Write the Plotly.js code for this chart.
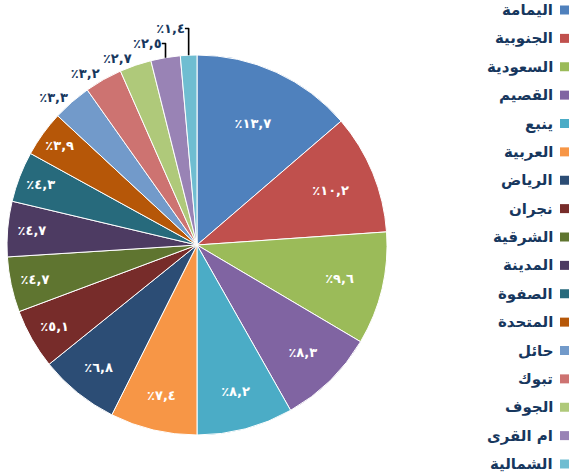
<!DOCTYPE html>
<html>
<head>
<meta charset="utf-8">
<script src="https://cdn.plot.ly/plotly-3.0.1.min.js"></script>
<style>html,body{margin:0;padding:0;background:#fff;}#chart{width:570px;height:475px;}</style>
</head>
<body>
<div id="chart"></div>
<script>
const categories = ['اليمامة','الجنوبية','السعودية','القصيم','ينبع','العربية','الرياض','نجران','الشرقية','المدينة','الصفوة','المتحدة','حائل','تبوك','الجوف','ام القرى','الشمالية'];
const values = [13.7,10.2,9.6,8.3,8.2,7.4,6.8,5.1,4.7,4.7,4.3,3.9,3.3,3.2,2.7,2.5,1.4];
const colors = ['#4F81BD','#C0504D','#9BBB59','#8064A2','#4BACC6','#F79646','#2C4D75','#772C2A','#5F7530','#4D3B62','#276A7C','#B65708','#729ACA','#CD7371','#AFC97A','#9983B5','#6FBDD1'];

const navy = '#17375E';
function arabicDigits(s){ return s.replace(/[0-9]/g, d => '٠١٢٣٤٥٦٧٨٩'[+d]); }
const labels = values.map(v => '٪' + arabicDigits(v.toFixed(1).replace('.', ',')));
const outsideCount = 5;
const positions = values.map((v,i) => i >= values.length - outsideCount ? 'outside' : 'inside');
const textColors = values.map((v,i) => i >= values.length - outsideCount ? navy : '#FFFFFF');

const W = 570, H = 475;
const trace = {
  type: 'pie',
  labels: categories,
  values: values,
  text: labels,
  textinfo: 'text',
  textposition: positions,
  insidetextorientation: 'horizontal',
  textfont: {family: 'DejaVu Sans', size: 13, color: textColors, weight: 'bold'},
  sort: false,
  direction: 'clockwise',
  rotation: 0,
  marker: {colors: colors, line: {color: '#FFFFFF', width: 1}},
  domain: {x: [7/W, 387/W], y: [1 - 435/H, 1 - 55/H]},
  showlegend: false,
  hoverinfo: 'none'
};

const annotations = [];
const shapes = [];
categories.forEach((c, i) => {
  const yPx = 10 + i * 28.375;
  annotations.push({
    xref: 'paper', yref: 'paper', x: 555/W, y: 1 - yPx/H,
    xanchor: 'right', yanchor: 'middle', showarrow: false,
    text: '<b>' + c + '</b>',
    font: {family: 'DejaVu Sans', size: 15, color: navy}
  });
  shapes.push({
    type: 'rect', xref: 'paper', yref: 'paper',
    x0: 560/W, x1: 569/W, y0: 1 - (yPx + 4.5)/H, y1: 1 - (yPx - 4.5)/H,
    fillcolor: colors[i], line: {width: 0}
  });
});

const layout = {
  width: W, height: H,
  margin: {l: 0, r: 0, t: 0, b: 0},
  paper_bgcolor: '#FFFFFF',
  showlegend: false,
  annotations: annotations,
  shapes: shapes
};
Plotly.newPlot('chart', [trace], layout, {staticPlot: true, displayModeBar: false});
</script>
</body>
</html>
